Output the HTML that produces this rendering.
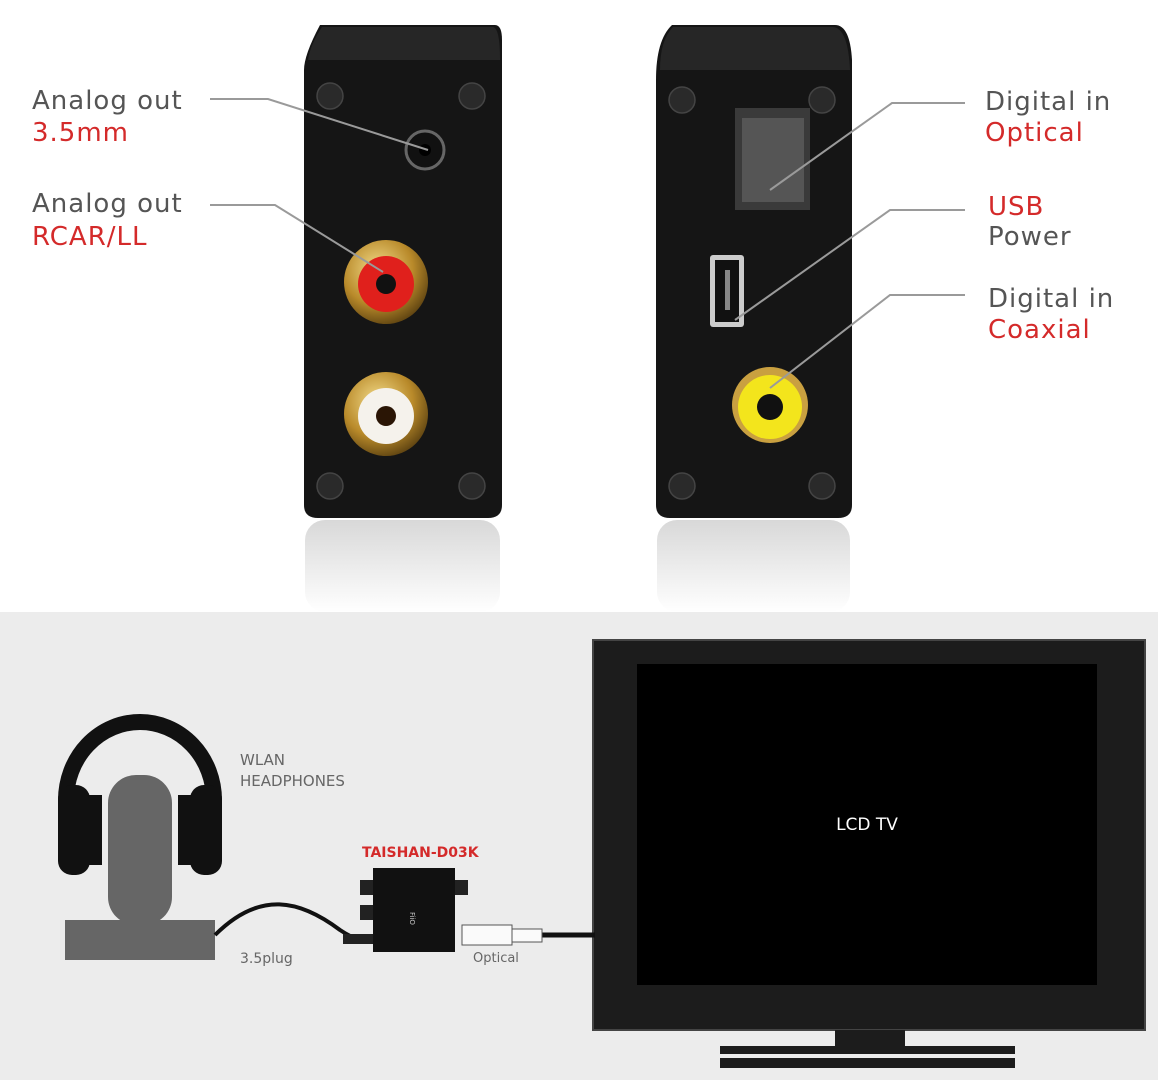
<!DOCTYPE html>
<html><head><meta charset="utf-8"><style>
html,body{margin:0;padding:0;background:#fff}
svg{display:block}
text{font-family:"DejaVu Sans","Liberation Sans",sans-serif}
</style></head><body>
<svg width="1158" height="1080" viewBox="0 0 1158 1080" xmlns="http://www.w3.org/2000/svg">
<defs>
<linearGradient id="refl" x1="0" y1="0" x2="0" y2="1">
<stop offset="0" stop-color="#d8d8d8"/><stop offset="1" stop-color="#fff"/>
</linearGradient>
<radialGradient id="gold" cx="0.4" cy="0.35" r="0.7">
<stop offset="0" stop-color="#f3dc8a"/><stop offset="0.6" stop-color="#b98a2a"/><stop offset="1" stop-color="#5a4010"/>
</radialGradient>
</defs>
<rect width="1158" height="1080" fill="#fff"/>
<rect x="305" y="520" width="195" height="92" rx="20" fill="url(#refl)"/>
<rect x="657" y="520" width="193" height="92" rx="20" fill="url(#refl)"/>
<path d="M320 25 H495 Q502 25 502 40 V505 Q502 518 488 518 H318 Q304 518 304 505 V70 Q304 55 320 25Z" fill="#151515"/>
<path d="M322 27 H493 Q500 28 500 60 H308 Q310 45 322 27Z" fill="#262626"/>
<g fill="#2a2a2a" stroke="#444" stroke-width="1.5">
<circle cx="330" cy="96" r="13"/><circle cx="472" cy="96" r="13"/><circle cx="330" cy="486" r="13"/><circle cx="472" cy="486" r="13"/>
</g>
<circle cx="425" cy="150" r="19" fill="#111" stroke="#666" stroke-width="3"/>
<circle cx="425" cy="150" r="6" fill="#000"/>
<circle cx="386" cy="282" r="42" fill="url(#gold)"/>
<circle cx="386" cy="284" r="28" fill="#e0201c"/>
<circle cx="386" cy="284" r="10" fill="#111"/>
<circle cx="386" cy="414" r="42" fill="url(#gold)"/>
<circle cx="386" cy="416" r="28" fill="#f5f2ec"/>
<circle cx="386" cy="416" r="10" fill="#2a1505"/>
<path d="M672 25 H835 Q850 25 852 60 V505 Q852 518 838 518 H670 Q656 518 656 505 V80 Q656 40 672 25Z" fill="#151515"/>
<path d="M673 27 H833 Q848 28 850 70 H660 Q660 40 673 27Z" fill="#262626"/>
<g fill="#2a2a2a" stroke="#444" stroke-width="1.5">
<circle cx="682" cy="100" r="13"/><circle cx="822" cy="100" r="13"/><circle cx="682" cy="486" r="13"/><circle cx="822" cy="486" r="13"/>
</g>
<rect x="735" y="108" width="75" height="102" fill="#3a3a3a"/>
<rect x="742" y="118" width="62" height="84" fill="#555"/>
<rect x="710" y="255" width="34" height="72" rx="3" fill="#ccc"/>
<rect x="715" y="260" width="24" height="62" fill="#111"/>
<rect x="725" y="270" width="5" height="40" fill="#888"/>
<circle cx="770" cy="405" r="38" fill="#c9a040"/>
<circle cx="770" cy="407" r="32" fill="#f3e51c"/>
<circle cx="770" cy="407" r="13" fill="#111"/>
<g stroke="#9a9a9a" stroke-width="2" fill="none">
<polyline points="210,99 268,99 428,150"/>
<polyline points="210,205 275,205 383,272"/>
<polyline points="965,103 892,103 770,190"/>
<polyline points="965,210 890,210 735,320"/>
<polyline points="965,295 890,295 770,388"/>
</g>
<g font-size="26" letter-spacing="1">
<text x="32" y="109" fill="#555">Analog out</text>
<text x="32" y="141" fill="#d42a2a">3.5mm</text>
<text x="32" y="212" fill="#555">Analog out</text>
<text x="32" y="245" fill="#d42a2a">RCAR/LL</text>
<text x="985" y="110" fill="#555">Digital in</text>
<text x="985" y="141" fill="#d42a2a">Optical</text>
<text x="988" y="215" fill="#d42a2a">USB</text>
<text x="988" y="245" fill="#555">Power</text>
<text x="988" y="307" fill="#555">Digital in</text>
<text x="988" y="338" fill="#d42a2a">Coaxial</text>
</g>
<rect x="0" y="612" width="1158" height="468" fill="#ececec"/>
<rect x="593" y="640" width="552" height="390" fill="#1c1c1c" stroke="#444" stroke-width="2"/>
<rect x="637" y="664" width="460" height="321" fill="#000"/>
<text x="867" y="830" font-size="17" fill="#fff" text-anchor="middle">LCD TV</text>
<rect x="835" y="1030" width="70" height="16" fill="#1c1c1c"/>
<rect x="720" y="1046" width="295" height="8" fill="#1c1c1c"/>
<rect x="720" y="1058" width="295" height="10" fill="#1c1c1c"/>
<path d="M66 800 A74 78 0 0 1 214 800" fill="none" stroke="#111" stroke-width="16"/>
<rect x="108" y="775" width="64" height="150" rx="28" fill="#666"/>
<rect x="65" y="920" width="150" height="40" fill="#666"/>
<rect x="58" y="785" width="32" height="90" rx="14" fill="#111"/>
<rect x="84" y="795" width="18" height="70" fill="#111"/>
<rect x="190" y="785" width="32" height="90" rx="14" fill="#111"/>
<rect x="178" y="795" width="18" height="70" fill="#111"/>
<text x="240" y="765" font-size="15" fill="#666">WLAN</text>
<text x="240" y="786" font-size="15" fill="#666">HEADPHONES</text>
<path d="M215 935 C260 890 300 900 340 930 C355 940 360 940 375 940" fill="none" stroke="#111" stroke-width="4"/>
<rect x="343" y="934" width="30" height="10" fill="#222"/>
<path d="M540 935 H595" stroke="#111" stroke-width="5"/>
<rect x="462" y="925" width="50" height="20" fill="#fafafa" stroke="#555"/>
<rect x="512" y="929" width="30" height="13" fill="#fafafa" stroke="#555"/>
<rect x="360" y="880" width="20" height="15" fill="#222"/>
<rect x="360" y="905" width="20" height="15" fill="#222"/>
<rect x="450" y="880" width="18" height="15" fill="#222"/>
<rect x="373" y="868" width="82" height="84" fill="#111"/>
<text x="410" y="912" font-size="7" fill="#ccc" transform="rotate(90 410 912)">FiiO</text>
<text x="362" y="857" font-size="14" font-weight="bold" fill="#d42a2a">TAISHAN-D03K</text>
<text x="240" y="963" font-size="14" fill="#666">3.5plug</text>
<text x="473" y="962" font-size="13" fill="#666">Optical</text>
</svg>
</body></html>
